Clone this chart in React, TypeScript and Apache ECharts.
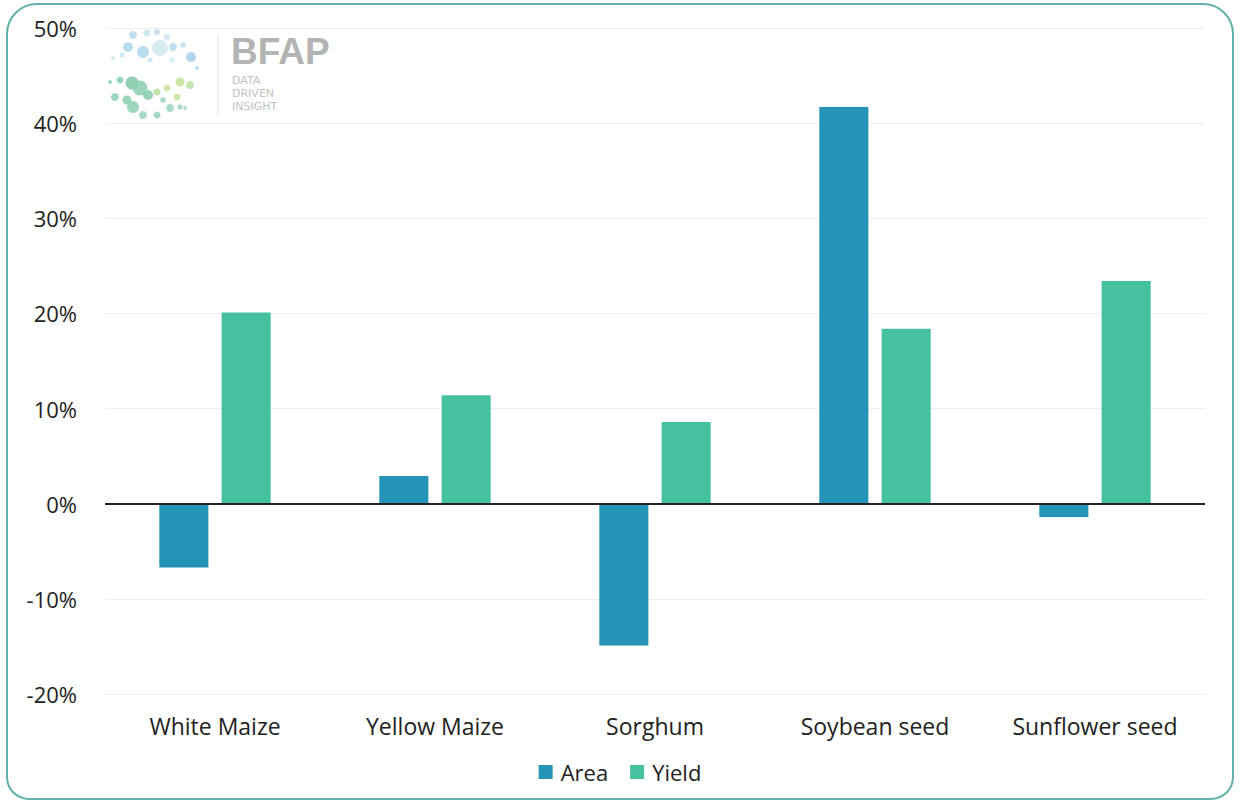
import React, { useEffect, useRef } from "react";
import * as echarts from "echarts";

const categories = ["White Maize", "Yellow Maize", "Sorghum", "Soybean seed", "Sunflower seed"];
const areaValues = [-6.7, 2.9, -14.9, 41.7, -1.4];
const yieldValues = [20.1, 11.4, 8.6, 18.4, 23.4];
const seriesNames = ["Area", "Yield"];

const AREA_COLOR = "#2594b8";
const YIELD_COLOR = "#46c19f";
const FONT = "'Open Sans', sans-serif";

// BFAP logo dots: [x, y, r, colour]
const logoDots: [number, number, number, string][] = [
  [133, 35, 4, "#b9dcee"], [147, 33, 3.5, "#c6e3f1"], [157, 32, 3, "#b9dcee"], [167, 37, 3.5, "#cfe7f2"],
  [128, 47, 5, "#aed6ec"], [143, 52, 6, "#b4d9ee"], [160, 48, 8, "#d2e9f3"], [173, 47, 4, "#b9dcee"],
  [183, 45, 3, "#c3e1f0"], [191, 57, 5, "#a9d3ea"], [122, 55, 2.5, "#c6e3f1"], [113, 58, 2, "#d0e8f2"],
  [197, 68, 2, "#b9dcee"], [172, 60, 3, "#d7ecf4"], [150, 60, 2.5, "#c6e3f1"],
  [110, 82, 2, "#8fd3b6"], [120, 80, 3.5, "#8ed0b3"], [132, 83, 6.5, "#86c9a9"], [140, 88, 7.5, "#92d2b6"],
  [148, 95, 5, "#8bcdb0"], [157, 92, 3.5, "#b8e09a"], [167, 88, 3.5, "#c9e6a0"], [180, 82, 4.5, "#c4e39b"],
  [190, 85, 4, "#bfe2a6"], [177, 97, 3.5, "#c9e6a0"], [163, 100, 3, "#a3d8c0"],
  [115, 97, 4, "#92d2b6"], [127, 100, 4.5, "#8fd0b3"], [133, 107, 6, "#96d4b8"], [143, 115, 4, "#9ad5bb"],
  [157, 115, 3.5, "#9ad5bb"], [170, 108, 4, "#a1d8c0"], [180, 107, 2.5, "#9ad5bb"], [185, 108, 2, "#a8dbc4"],
];

export default function App() {
  const ref = useRef<HTMLDivElement>(null);

  useEffect(() => {
    if (!ref.current) return;
    const chart = echarts.init(ref.current, undefined, { renderer: "svg" });

    const dotElements = logoDots.map(([x, y, r, c]) => ({
      type: "circle",
      shape: { cx: x, cy: y, r },
      style: { fill: c, opacity: 0.9 },
      silent: true,
    }));

    chart.setOption({
      animation: false,
      backgroundColor: "#ffffff",
      textStyle: { fontFamily: FONT },
      grid: { left: 105, right: 35, top: 28, bottom: 108, containLabel: false },
      legend: {
        data: seriesNames,
        top: 756,
        left: "center",
        itemWidth: 14,
        itemHeight: 14,
        itemGap: 22,
        icon: "rect",
        textStyle: { fontSize: 22, color: "#222", fontFamily: FONT, padding: [0, 0, 0, 3] },
      },
      xAxis: {
        type: "category",
        data: categories,
        axisLine: { show: false, onZero: false },
        axisTick: { show: false },
        axisLabel: { fontSize: 23, color: "#222", margin: 20, fontFamily: FONT },
      },
      yAxis: {
        type: "value",
        min: -20,
        max: 50,
        interval: 10,
        axisLine: { show: false },
        axisTick: { show: false },
        axisLabel: {
          formatter: "{value}%",
          fontSize: 22,
          color: "#222",
          margin: 28,
          fontFamily: FONT,
        },
        splitLine: { lineStyle: { color: "#eeeeee", width: 1 } },
      },
      series: [
        {
          name: seriesNames[0],
          type: "bar",
          data: areaValues,
          barWidth: "22.3%",
          barGap: "27%",
          itemStyle: { color: AREA_COLOR },
          markLine: {
            silent: true,
            symbol: "none",
            label: { show: false },
            lineStyle: { color: "#222", width: 2, type: "solid" },
            data: [{ yAxis: 0 }],
          },
        },
        {
          name: seriesNames[1],
          type: "bar",
          data: yieldValues,
          barWidth: "22.3%",
          barGap: "27%",
          itemStyle: { color: YIELD_COLOR },
        },
      ],
      graphic: [
        {
          type: "rect",
          shape: { x: 7, y: 4, width: 1226, height: 795, r: [30, 30, 22, 22] },
          style: { fill: "none", stroke: "#62b1ab", lineWidth: 2 },
          silent: true,
          z: 100,
        },
        {
          type: "group",
          silent: true,
          children: [
            ...dotElements,
            {
              type: "line",
              shape: { x1: 218, y1: 35, x2: 218, y2: 115 },
              style: { stroke: "#dddddd", lineWidth: 1 },
            },
            {
              type: "text",
              x: 231,
              y: 33,
              style: {
                text: "BFAP",
                fontSize: 37,
                fontWeight: "bold",
                fill: "#b4b4b4",
                fontFamily: "'Liberation Sans', Arial, sans-serif",
              },
            },
            {
              type: "text",
              x: 232,
              y: 74,
              style: {
                text: "DATA\nDRIVEN\nINSIGHT",
                fontSize: 11,
                lineHeight: 13,
                fill: "#c2c2c2",
                fontFamily: "'DejaVu Sans', sans-serif",
              },
            },
          ],
        },
      ],
    });

    return () => chart.dispose();
  }, []);

  return (
    <div
      ref={ref}
      style={{ position: "absolute", left: 0, top: 0, width: 1240, height: 802 }}
    />
  );
}
